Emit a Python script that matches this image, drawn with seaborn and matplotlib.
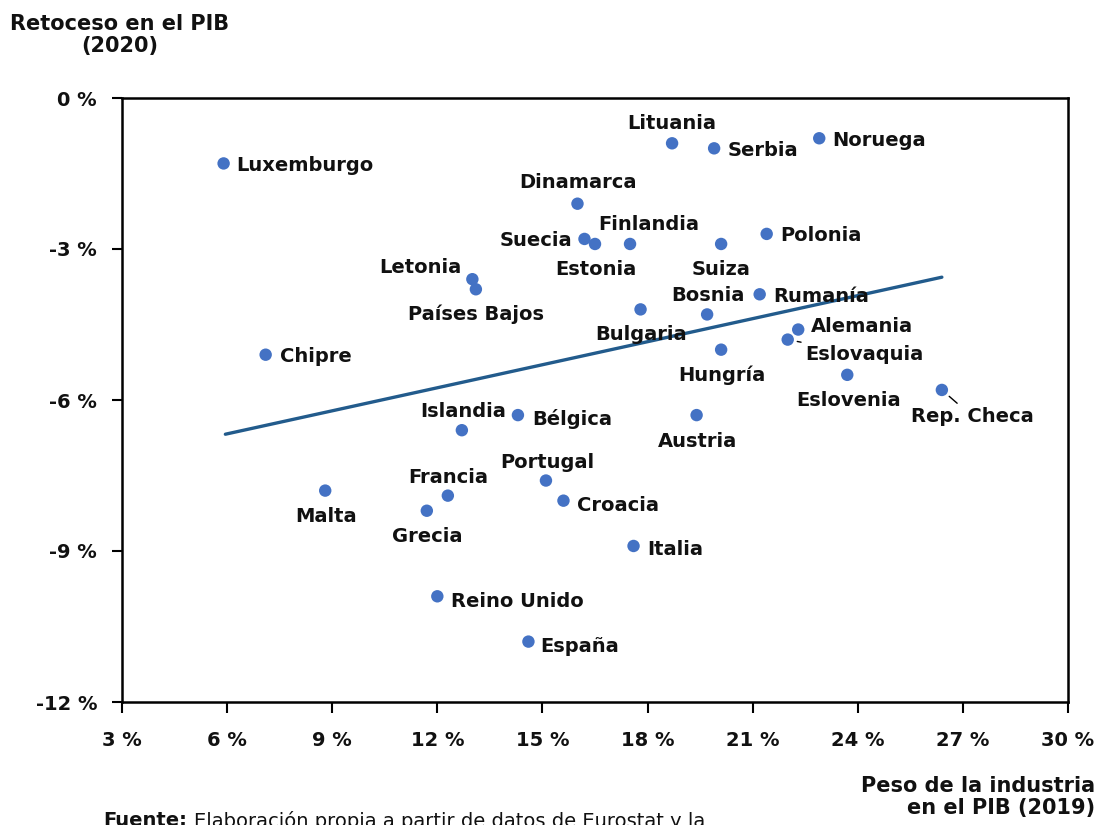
import matplotlib
matplotlib.use("Agg")
from matplotlib import pyplot as plt
import pandas as pd
import seaborn as sns

# datos
paises = ['Luxemburgo', 'Chipre', 'Malta', 'Letonia', 'Países Bajos', 'Islandia',
          'Francia', 'Grecia', 'Reino Unido', 'España', 'Bélgica', 'Portugal',
          'Croacia', 'Italia', 'Dinamarca', 'Suecia', 'Estonia', 'Finlandia',
          'Lituania', 'Serbia', 'Noruega', 'Polonia', 'Suiza', 'Bulgaria',
          'Bosnia', 'Rumanía', 'Alemania', 'Eslovaquia', 'Hungría', 'Eslovenia',
          'Austria', 'Rep. Checa']
peso_industria = [5.9, 7.1, 8.8, 13.0, 13.1, 12.7, 12.3, 11.7, 12.0, 14.6, 14.3, 15.1,
                  15.6, 17.6, 16.0, 16.2, 16.5, 17.5, 18.7, 19.9, 22.9, 21.4, 20.1, 17.8,
                  19.7, 21.2, 22.3, 22.0, 20.1, 23.7, 19.4, 26.4]
retroceso_pib = [-1.3, -5.1, -7.8, -3.6, -3.8, -6.6, -7.9, -8.2, -9.9, -10.8, -6.3, -7.6,
                 -8.0, -8.9, -2.1, -2.8, -2.9, -2.9, -0.9, -1.0, -0.8, -2.7, -2.9, -4.2,
                 -4.3, -3.9, -4.6, -4.8, -5.0, -5.5, -6.3, -5.8]
tendencia_x = [5.95, 26.4]
tendencia_y = [-6.68, -3.56]

x_ticks = [3, 6, 9, 12, 15, 18, 21, 24, 27, 30]
y_ticks = [0, -3, -6, -9, -12]

# posición de cada etiqueta respecto al punto (px)
offsets = {
    'Luxemburgo': (13, -2, 'left'), 'Chipre': (14, -2, 'left'), 'Malta': (1, -26, 'center'),
    'Letonia': (-11, 12, 'right'), 'Países Bajos': (0, -25, 'center'),
    'Islandia': (1, 19, 'center'), 'Francia': (0, 18, 'center'), 'Grecia': (0, -26, 'center'),
    'Reino Unido': (14, -5, 'left'), 'España': (12, -5, 'left'), 'Bélgica': (14, -4, 'left'),
    'Portugal': (1, 18, 'center'), 'Croacia': (14, -5, 'left'), 'Italia': (14, -4, 'left'),
    'Dinamarca': (1, 21, 'center'), 'Suecia': (-12, -2, 'right'), 'Estonia': (1, -26, 'center'),
    'Finlandia': (19, 19, 'center'), 'Lituania': (0, 20, 'center'), 'Serbia': (13, -2, 'left'),
    'Noruega': (13, -2, 'left'), 'Polonia': (14, -2, 'left'), 'Suiza': (0, -26, 'center'),
    'Bulgaria': (1, -25, 'center'), 'Bosnia': (1, 19, 'center'), 'Rumanía': (14, -2, 'left'),
    'Alemania': (13, 3, 'left'), 'Eslovaquia': (18, -15, 'left'), 'Hungría': (1, -26, 'center'),
    'Eslovenia': (1, -26, 'center'), 'Austria': (1, -26, 'center'), 'Rep. Checa': (31, -27, 'center'),
}
con_linea = ['Eslovaquia', 'Rep. Checa']

df = pd.DataFrame({'pais': paises, 'x': peso_industria, 'y': retroceso_pib})
df_tend = pd.DataFrame({'x': tendencia_x, 'y': tendencia_y})

sns.set_style("white")
plt.rcParams['font.family'] = ['DejaVu Sans']

fig = plt.figure(figsize=(11.01, 8.25), dpi=100)
ax = fig.add_axes([122 / 1101, 1 - 702 / 825, (1068 - 122) / 1101, (702 - 98) / 825])

sns.lineplot(data=df_tend, x='x', y='y', color='#225B8C', linewidth=2.4, ax=ax)
sns.scatterplot(data=df, x='x', y='y', color='#4472C4', s=80, edgecolor='none', ax=ax, zorder=3)

for p, xv, yv in zip(paises, peso_industria, retroceso_pib):
    dx, dy, ha = offsets[p]
    kw = {}
    if p in con_linea:
        kw['arrowprops'] = dict(arrowstyle='-', color='black', lw=1, shrinkA=1, shrinkB=7)
    ax.annotate(p, (xv, yv), xytext=(dx, dy), textcoords='offset pixels',
                ha=ha, va='center', fontsize=14, fontweight='bold', color='#111111', **kw)

ax.set_xlim(3, 30)
ax.set_ylim(-12, 0)
ax.set_xticks(x_ticks)
ax.set_yticks(y_ticks)
ax.set_xticklabels([f'{t} %' for t in x_ticks])
ax.set_yticklabels([f'{t} %' for t in y_ticks])
ax.set_xlabel('')
ax.set_ylabel('')
for s in ax.spines.values():
    s.set_visible(True)
    s.set_color('black')
    s.set_linewidth(1.8)
ax.tick_params(axis='x', direction='out', length=8, width=1.5, pad=13, labelsize=14,
               bottom=True, colors='black', labelcolor='#111111')
ax.tick_params(axis='y', direction='out', length=7, width=1.5, pad=11, labelsize=14,
               left=True, colors='black', labelcolor='#111111')
for lab in ax.get_xticklabels() + ax.get_yticklabels():
    lab.set_fontweight('bold')

fig.text(120 / 1101, 1 - 35 / 825, 'Retoceso en el PIB\n(2020)', ha='center', va='center',
         fontsize=15, fontweight='bold', linespacing=1.1, color='#111111')
fig.text(1095 / 1101, 1 - 797 / 825, 'Peso de la industria\nen el PIB (2019)', ha='right',
         va='center', fontsize=15, fontweight='bold', linespacing=1.1, multialignment='right',
         color='#111111')
fig.text(103 / 1101, 1 - 811 / 825, 'Fuente:', ha='left', va='top', fontsize=14,
         fontweight='bold', color='#111111')
fig.text(194 / 1101, 1 - 811 / 825, 'Elaboración propia a partir de datos de Eurostat y la',
         ha='left', va='top', fontsize=14, color='#111111')

fig.savefig('out.png', dpi=100)
